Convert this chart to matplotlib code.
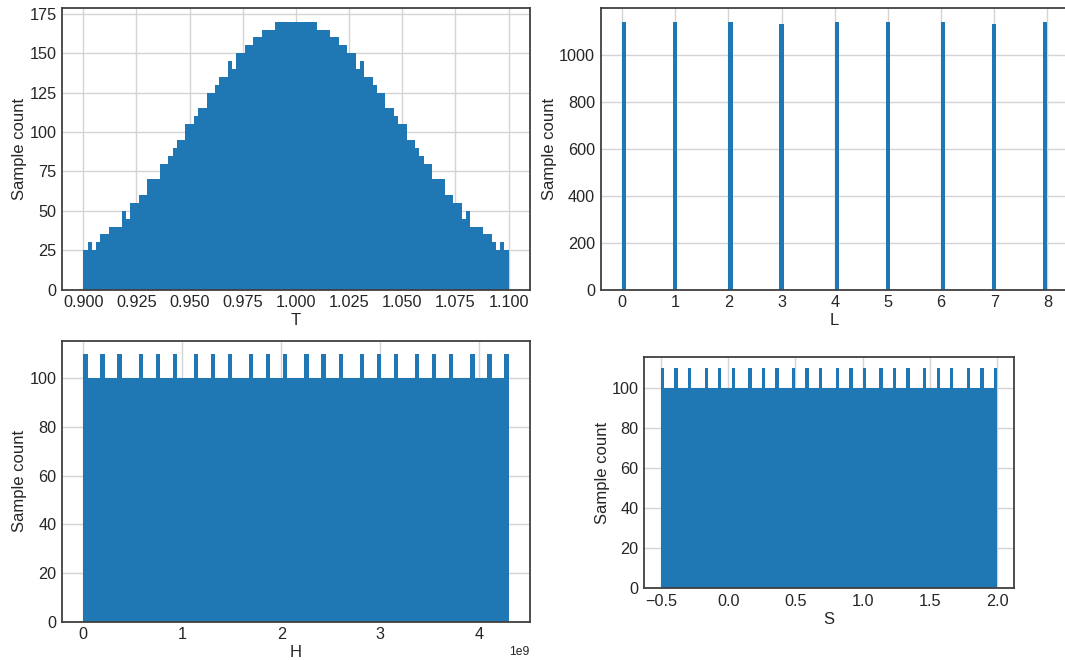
import numpy as np
import matplotlib
matplotlib.use("Agg")
import matplotlib.pyplot as plt

# histogram data (100 bins each, L over its integer values)
T_range = (0.9, 1.1)
T_counts = [25, 30, 25, 30, 35, 35, 40, 40, 40, 50,
            45, 55, 55, 60, 60, 70, 70, 70, 80, 80,
            85, 90, 95, 95, 105, 105, 110, 115, 115, 125,
            125, 130, 135, 135, 145, 140, 150, 150, 155, 155,
            160, 160, 165, 165, 165, 170, 170, 170, 170, 170,
            170, 170, 170, 170, 170, 165, 165, 165, 160, 160,
            155, 155, 150, 150, 140, 145, 135, 135, 130, 125,
            125, 115, 115, 110, 105, 105, 95, 95, 90, 85,
            80, 80, 70, 70, 70, 60, 60, 55, 55, 45,
            50, 40, 40, 40, 35, 35, 30, 25, 30, 25]

L_values = [0, 1, 2, 3, 4, 5, 6, 7, 8]
L_counts = [1140, 1140, 1140, 1130, 1140, 1140, 1140, 1130, 1140]

H_range = (0.0, 4.295e9)
H_counts = [110, 100, 100, 100, 110, 100, 100, 100, 110, 100,
            100, 100, 100, 110, 100, 100, 100, 110, 100, 100,
            100, 110, 100, 100, 100, 100, 110, 100, 100, 100,
            110, 100, 100, 100, 110, 100, 100, 100, 100, 110,
            100, 100, 100, 110, 100, 100, 100, 110, 100, 100,
            100, 100, 110, 100, 100, 100, 110, 100, 100, 100,
            110, 100, 100, 100, 100, 110, 100, 100, 100, 110,
            100, 100, 100, 110, 100, 100, 100, 100, 110, 100,
            100, 100, 110, 100, 100, 100, 110, 100, 100, 100,
            100, 110, 100, 100, 100, 110, 100, 100, 100, 110]

S_range = (-0.5, 2.0)
S_counts = [110, 100, 100, 100, 110, 100, 100, 100, 110, 100,
            100, 100, 100, 110, 100, 100, 100, 110, 100, 100,
            100, 110, 100, 100, 100, 100, 110, 100, 100, 100,
            110, 100, 100, 100, 110, 100, 100, 100, 100, 110,
            100, 100, 100, 110, 100, 100, 100, 110, 100, 100,
            100, 100, 110, 100, 100, 100, 110, 100, 100, 100,
            110, 100, 100, 100, 100, 110, 100, 100, 100, 110,
            100, 100, 100, 110, 100, 100, 100, 100, 110, 100,
            100, 100, 110, 100, 100, 100, 110, 100, 100, 100,
            100, 110, 100, 100, 100, 110, 100, 100, 100, 110]

plt.rcParams['font.family'] = ['Liberation Sans', 'DejaVu Sans']
plt.rcParams['text.color'] = '0.15'
plt.rcParams['axes.labelcolor'] = '0.15'
plt.rcParams['xtick.color'] = '0.15'
plt.rcParams['ytick.color'] = '0.15'

bar_color = '#1f77b4'

fig = plt.figure(figsize=(10.65, 6.6), dpi=100)
ax_T = fig.add_axes([0.0582, 0.5611, 0.4394, 0.4264])
ax_L = fig.add_axes([0.5641, 0.5611, 0.4394, 0.4264])
ax_H = fig.add_axes([0.0582, 0.0583, 0.4394, 0.4256])
ax_S = fig.add_axes([0.6049, 0.1086, 0.3470, 0.3502])


def binned_hist(ax, rng, counts):
    edges = np.linspace(rng[0], rng[1], len(counts) + 1)
    ax.hist(edges[:-1], bins=edges, weights=counts, color=bar_color)


binned_hist(ax_T, T_range, T_counts)
ax_L.hist(L_values, bins=100, weights=L_counts, color=bar_color)
binned_hist(ax_H, H_range, H_counts)
binned_hist(ax_S, S_range, S_counts)

for ax, name in [(ax_T, 'T'), (ax_L, 'L'), (ax_H, 'H'), (ax_S, 'S')]:
    ax.set_axisbelow(True)
    ax.grid(True, color='0.83', linewidth=1.0)
    for sp in ax.spines.values():
        sp.set_color('0.25')
        sp.set_linewidth(1.3)
    ax.tick_params(length=0, labelsize=11.7, pad=4)
    ax.set_xlabel(name, fontsize=12, labelpad=2)
    ax.set_ylabel('Sample count', fontsize=12, labelpad=1.5)

ax_T.set_yticks([0, 25, 50, 75, 100, 125, 150, 175])
ax_T.set_xticks([0.9, 0.925, 0.95, 0.975, 1.0, 1.025, 1.05, 1.075, 1.1])
ax_H.xaxis.get_offset_text().set_fontsize(8.7)

fig.savefig('out.png', dpi=100)
